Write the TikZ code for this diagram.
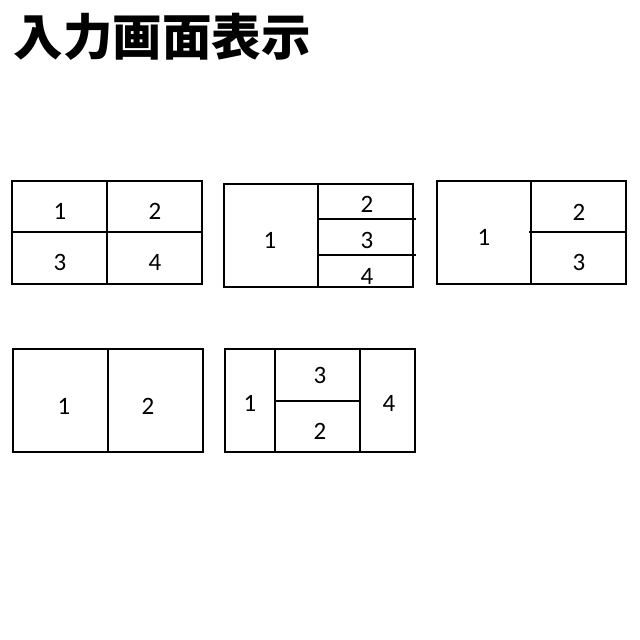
\documentclass[tikz,border=0pt]{standalone}
\usepackage{fontspec}
\setmainfont{Carlito}
\newfontfamily\cjk{Noto Sans CJK JP}
\tikzset{num/.style={font=\fontsize{25}{25}\selectfont}}
\begin{document}
\begin{tikzpicture}[x=1pt,y=-1pt,line width=1.6pt]
		\useasboundingbox(0,0)rectangle(640,640);
		\node[anchor=base west,inner sep=0pt,font=\cjk\bfseries\fontsize{49.5}{49.5}\selectfont](title)at(13,55){入力画面表示};
		% four screens
		\draw(12,181)rectangle(202,284);
		\draw(107,181)--(107,284)(12,232)--(202,232);
		\node[num](q1)at(60,211){1};
		\node[num](q2)at(155,211){2};
		\node[num](q3)at(60,262){3};
		\node[num](q4)at(155,262){4};
		% one large, three stacked
		\draw(224,184)rectangle(413,287);
		\draw(318,184)--(318,287)(318,219)--(416,219)(318,255)--(416,255);
		\node[num](s1)at(270,240){1};
		\node[num](s2)at(367,204){2};
		\node[num](s3)at(367,240){3};
		\node[num](s4)at(367,276){4};
		% one large, two stacked
		\draw(437,181)rectangle(626,284);
		\draw(531,181)--(531,284)(529,232)--(626,232);
		\node[num](t1)at(484,237){1};
		\node[num](t2)at(579,212){2};
		\node[num](t3)at(579,262){3};
		% two side by side
		\draw(13,349)rectangle(203,452);
		\draw(108,349)--(108,452);
		\node[num](h1)at(64,406){1};
		\node[num](h2)at(148,406){2};
		% narrow, two stacked, narrow
		\draw(225,349)rectangle(415,452);
		\draw(275,349)--(275,452)(360,349)--(360,452)(275,401)--(360,401);
		\node[num](f1)at(250,403){1};
		\node[num](f3)at(320,375){3};
		\node[num](f2)at(320,431){2};
		\node[num](f4)at(389,403){4};
	\end{tikzpicture}
\end{document}
